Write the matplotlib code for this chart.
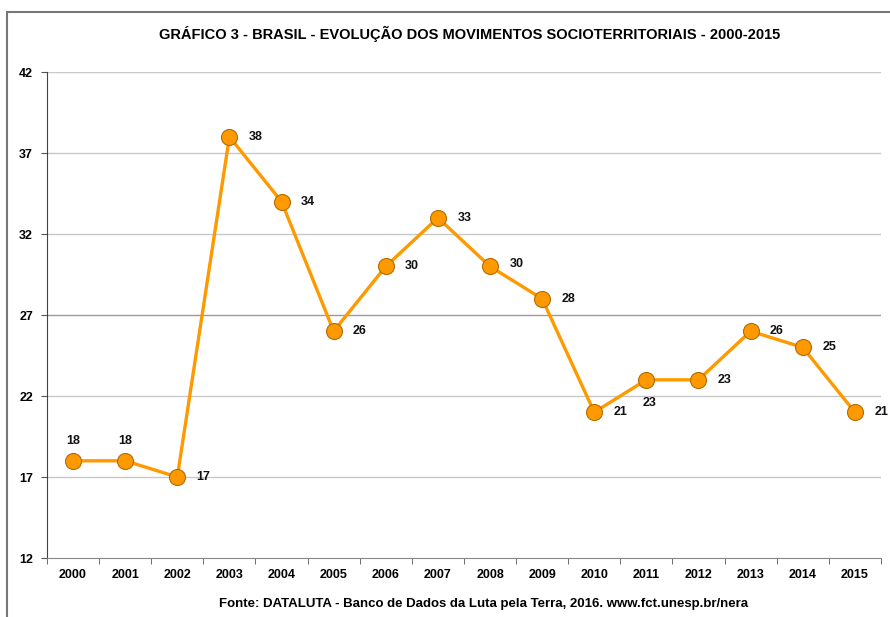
import numpy as np
import matplotlib.pyplot as plt
from matplotlib.patches import Rectangle

plt.rcParams['font.family'] = ['Liberation Sans Narrow', 'Liberation Sans', 'DejaVu Sans']
plt.rcParams['font.weight'] = 'bold'

# Movimentos socioterritoriais por ano
anos = ['2000', '2001', '2002', '2003', '2004', '2005', '2006', '2007',
        '2008', '2009', '2010', '2011', '2012', '2013', '2014', '2015']
movimentos = [18, 18, 17, 38, 34, 26, 30, 33, 30, 28, 21, 23, 23, 26, 25, 21]
# deslocamento dos rotulos (pontos): a maioria fica a direita do marcador
rotulo_dx = [0, 0, 14, 14, 14, 14, 14, 14, 14, 14, 14, 2, 14, 14, 14, 14]
rotulo_dy = [14, 14, 0, 0, 0, 0, 0, 0, 2, 0, 0, -17, 0, 0, 0, 0]
y_ticks = [12, 17, 22, 27, 32, 37, 42]

fig = plt.figure(figsize=(8.9, 6.17), dpi=100)
ax = fig.add_axes([0.0528, 0.0956, 0.937, 0.7877])

x = np.arange(len(anos))
ax.plot(x, movimentos, color='#FF9900', lw=2.4, marker='o', ms=11.5,
        mfc='#FF9900', mec='#B36B00', mew=0.8, zorder=3)

for xi, v, dx, dy in zip(x, movimentos, rotulo_dx, rotulo_dy):
    ax.annotate(str(v), (xi, v), xytext=(dx, dy), textcoords='offset points',
                ha='left' if dx > 5 else 'center', va='center',
                fontsize=9, fontweight='bold', color='#111111')

ax.set_xlim(-0.5, len(anos) - 0.5)
ax.set_ylim(12, 42)
ax.set_yticks(y_ticks)
ax.set_yticklabels([str(t) for t in y_ticks], fontsize=9, fontweight='bold')
ax.set_xticks(x)
ax.set_xticklabels(anos, fontsize=9, fontweight='bold')
ax.set_xticks(np.arange(-0.5, len(anos)), minor=True)
ax.tick_params(axis='x', which='major', length=0, pad=8)
ax.tick_params(axis='x', which='minor', length=4, color='#555555')
ax.tick_params(axis='y', length=4, color='#555555', pad=6)

for t in y_ticks[1:]:
    ax.axhline(t, color='#c8c8c8' if t != 27 else '#9a9a9a', lw=1, zorder=1)

ax.spines['top'].set_visible(False)
ax.spines['right'].set_visible(False)
ax.spines['left'].set_color('#444444')
ax.spines['bottom'].set_color('#888888')

fig.text(0.528, 0.945, 'GRÁFICO 3 - BRASIL - EVOLUÇÃO DOS MOVIMENTOS SOCIOTERRITORIAIS - 2000-2015',
         ha='center', va='center', fontsize=10.5, fontweight='bold')
fig.text(0.543, 0.021, 'Fonte: DATALUTA - Banco de Dados da Luta pela Terra, 2016. www.fct.unesp.br/nera',
         ha='center', va='center', fontsize=9.5, fontweight='bold')

# moldura do grafico
fig.patches.append(Rectangle((0.008, -0.01), 1.05, 0.99, transform=fig.transFigure,
                             fill=False, ec='#777777', lw=1.5))

fig.savefig('out.png', dpi=100)
